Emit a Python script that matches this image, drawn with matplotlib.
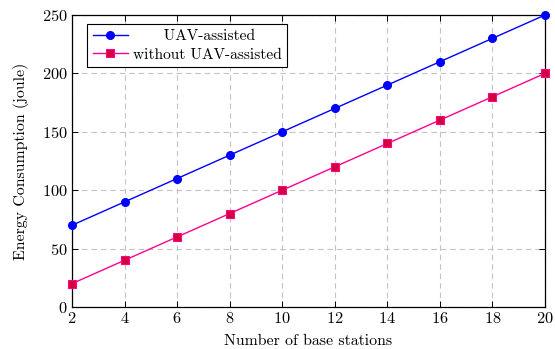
import matplotlib
matplotlib.use("Agg")
import matplotlib.pyplot as plt

# energy consumption vs number of base stations
stations = [2, 4, 6, 8, 10, 12, 14, 16, 18, 20]
uav_assisted = [70, 90, 110, 130, 150, 170, 190, 210, 230, 250]
without_uav = [20, 40, 60, 80, 100, 120, 140, 160, 180, 200]

plt.rcParams['font.family'] = ['cmr10', 'DejaVu Serif']
plt.rcParams['axes.formatter.use_mathtext'] = True
plt.rcParams['font.size'] = 11.8

fig = plt.figure(figsize=(5.55, 3.49), dpi=100)
ax = fig.add_axes([72 / 555, 1 - 307 / 349, (545 - 72) / 555, (307 - 15) / 349])

ax.plot(stations, uav_assisted, color='#0000ff', lw=1.0, marker='o', ms=5.5,
        mfc='#0000ff', mec='#0000ff', clip_on=False, zorder=3,
        label='UAV-assisted')
ax.plot(stations, without_uav, color='#ff0090', lw=1.0, marker='s', ms=5.5,
        mfc='#d4003c', mec='#ff0090', mew=0.8, clip_on=False, zorder=3,
        label='without UAV-assisted')

ax.set_xlim(2, 20)
ax.set_ylim(0, 250)
ax.set_xticks(stations)
ax.set_yticks(range(0, 251, 50))
ax.grid(True, color='#c4c4c4', ls=(0, (5, 3.5)), lw=0.8)
ax.tick_params(direction='in', top=True, right=True, length=4, width=0.7, pad=3)
for s in ax.spines.values():
    s.set_linewidth(0.9)

ax.set_xlabel('Number of base stations', fontsize=11.4, labelpad=6)
ax.set_ylabel('Energy Consumption (joule)', fontsize=11.4, labelpad=9)

# first entry padded so it sits centred over the longer one
leg = ax.legend(ax.get_lines(), ['      UAV-assisted', 'without UAV-assisted'],
                loc='upper left', bbox_to_anchor=(0.032, 0.969), fancybox=False,
                edgecolor='black', framealpha=1, borderpad=0.35, handlelength=2.3,
                labelspacing=0.3, handletextpad=0.3, borderaxespad=0,
                fontsize=11.1)
leg.get_frame().set_linewidth(0.8)

fig.savefig('out.png', dpi=100)
